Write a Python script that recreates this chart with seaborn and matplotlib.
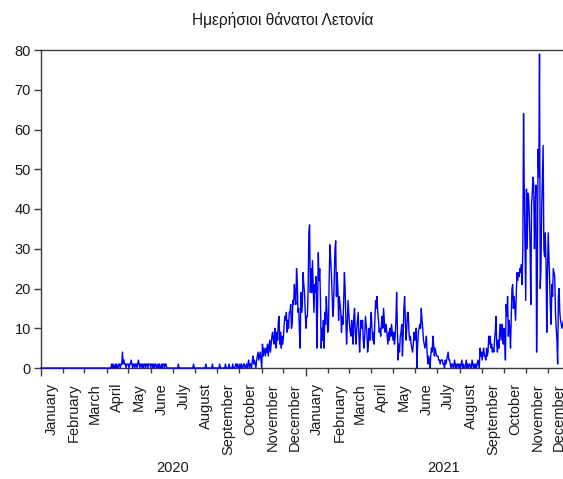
import matplotlib
matplotlib.use("Agg")
import matplotlib.pyplot as plt
import matplotlib.dates as mdates
import numpy as np
import pandas as pd
import seaborn as sns

# Daily COVID-19 deaths in Latvia, one list per calendar month
jan_2020 = [0] * 31
feb_2020 = [0] * 29
mar_2020 = [0] * 31
apr_2020 = [0, 0, 0, 0, 0, 0, 0, 1, 0, 1, 0, 0, 1, 0, 1, 0, 0, 1, 1, 0,
            1, 1, 4, 1, 2, 1, 1, 0, 1, 1]
may_2020 = [1, 0, 1, 1, 2, 1, 0, 1, 1, 0, 1, 1, 0, 1, 2, 1, 0, 1, 1, 0,
            1, 0, 1, 1, 0, 1, 1, 0, 1, 1, 1]
jun_2020 = [0, 1, 1, 0, 1, 0, 1, 1, 0, 0, 1, 0, 1, 0, 0, 1, 0, 1, 1, 0,
            1, 1, 0, 0, 0, 0, 0, 0, 0, 0]
jul_2020 = [0, 0, 0, 0, 0, 0, 0, 0, 1, 0, 0, 0, 0, 0, 0, 0, 0, 0, 0, 0,
            0, 0, 0, 0, 0, 0, 0, 0, 0, 1, 0]
aug_2020 = [0, 0, 0, 0, 0, 0, 0, 0, 0, 0, 0, 0, 0, 0, 0, 1, 0, 0, 0, 0,
            0, 0, 0, 0, 1, 0, 0, 0, 0, 0, 0]
sep_2020 = [0, 0, 0, 1, 0, 0, 0, 0, 0, 0, 0, 1, 0, 0, 0, 0, 1, 0, 0, 0,
            0, 1, 0, 0, 0, 1, 1, 0, 1, 0]
oct_2020 = [0, 1, 0, 1, 0, 0, 1, 1, 0, 0, 1, 0, 1, 2, 0, 1, 1, 0, 2, 3,
            1, 2, 1, 0, 2, 3, 4, 2, 3, 4, 2]
nov_2020 = [0, 6, 3, 5, 4, 3, 5, 4, 6, 3, 5, 7, 4, 6, 8, 9, 7, 6, 10, 8,
            5, 9, 7, 12, 13, 6, 9, 5, 8, 6]
dec_2020 = [8, 11, 13, 12, 14, 9, 12, 10, 14, 14, 16, 10, 11, 17, 16, 21, 18, 16, 25, 22,
            14, 15, 9, 5, 19, 14, 16, 24, 21, 19, 14]
jan_2021 = [10, 13, 13, 20, 34, 36, 19, 25, 19, 27, 20, 14, 21, 19, 23, 5, 15, 29, 22, 25,
            17, 5, 10, 7, 12, 5, 14, 11, 18, 14, 9]
feb_2021 = [10, 22, 31, 28, 24, 19, 13, 15, 22, 30, 32, 18, 24, 20, 12, 18, 16, 14, 9, 13,
            11, 17, 24, 20, 12, 6, 11, 17]
mar_2021 = [14, 11, 9, 8, 12, 10, 6, 13, 15, 9, 6, 10, 12, 14, 8, 4, 9, 12, 10, 12,
            7, 5, 8, 13, 11, 9, 4, 6, 10, 7, 11]
apr_2021 = [14, 10, 7, 9, 6, 12, 17, 15, 18, 14, 12, 9, 10, 8, 11, 13, 10, 15, 12, 9,
            11, 10, 8, 6, 9, 7, 10, 8, 11, 9]
may_2021 = [7, 9, 6, 8, 12, 19, 10, 2, 6, 4, 8, 9, 11, 3, 8, 15, 18, 12, 7, 10,
            14, 14, 9, 7, 8, 6, 5, 4, 6, 9, 7]
jun_2021 = [8, 10, 0, 6, 9, 10, 11, 10, 15, 12, 10, 7, 6, 5, 6, 8, 4, 1, 3, 2,
            0, 3, 5, 4, 8, 6, 3, 5, 4, 3]
jul_2021 = [3, 3, 2, 2, 1, 2, 2, 2, 1, 1, 0, 2, 1, 2, 3, 4, 2, 2, 1, 0,
            1, 1, 0, 1, 2, 0, 1, 0, 1, 1, 0]
aug_2021 = [1, 0, 1, 2, 0, 1, 0, 0, 1, 2, 0, 1, 0, 1, 1, 0, 0, 2, 1, 0,
            1, 0, 1, 0, 1, 2, 1, 0, 5, 3, 4]
sep_2021 = [2, 4, 5, 3, 3, 2, 5, 3, 4, 8, 6, 8, 5, 6, 4, 5, 4, 7, 9, 13,
            6, 4, 7, 5, 9, 11, 7, 11, 9, 6]
oct_2021 = [10, 7, 2, 16, 13, 18, 8, 12, 10, 5, 12, 20, 21, 15, 18, 15, 12, 19, 24, 22,
            24, 23, 25, 24, 26, 21, 30, 64, 44, 30, 17]
nov_2021 = [45, 30, 44, 43, 38, 30, 16, 41, 44, 48, 46, 30, 40, 46, 4, 23, 55, 48, 79, 20,
            25, 40, 48, 56, 30, 28, 34, 26, 9, 24]
dec_2021 = [34, 28, 22, 15, 11, 21, 18, 25, 24, 23, 14, 10, 7, 1, 18, 20, 14, 12, 11, 10,
            11, 12, 9, 10, 8, 7, 11, 9, 10, 8, 9]

month_names = ["January", "February", "March", "April", "May", "June", "July",
               "August", "September", "October", "November", "December"]
years = ["2020", "2021"]
title = "Ημερήσιοι θάνατοι Λετονία"

monthly = [jan_2020, feb_2020, mar_2020, apr_2020, may_2020, jun_2020,
           jul_2020, aug_2020, sep_2020, oct_2020, nov_2020, dec_2020,
           jan_2021, feb_2021, mar_2021, apr_2021, may_2021, jun_2021,
           jul_2021, aug_2021, sep_2021, oct_2021, nov_2021, dec_2021]
deaths = np.concatenate(monthly)
dates = pd.date_range(f"{years[0]}-01-01", periods=len(deaths), freq="D")
df = pd.DataFrame({"date": dates, "deaths": deaths})

sns.set_theme(style="white")
plt.rcParams["font.family"] = ["Liberation Sans", "DejaVu Sans"]

W, H = 563, 479
fig = plt.figure(figsize=(W / 100, H / 100), dpi=100)
fig.patch.set_facecolor("white")

# plot frame in pixels; the time axis runs on past the right edge of the canvas
left_px, right_px, top_px, bottom_px = 40.5, 570.7, 50, 368
ax = fig.add_axes([left_px / W, 1 - bottom_px / H,
                   (right_px - left_px) / W, (bottom_px - top_px) / H])

sns.lineplot(data=df, x="date", y="deaths", ax=ax, color="#0000ff",
             linewidth=1.0, clip_on=False, zorder=3)

start = pd.Timestamp(f"{years[0]}-01-01")
end = pd.Timestamp(f"{int(years[-1]) + 1}-01-01")
ax.set_xlim(start, end)
ax.set_ylim(0, 80)
ax.set_yticks(range(0, 81, 10))
ax.set_xlabel("")
ax.set_ylabel("")

spine_col = "#3c3c3c"
text_col = "#1a1a1a"
for side in ["left", "top", "bottom"]:
    ax.spines[side].set_color(spine_col)
    ax.spines[side].set_linewidth(1.0)
ax.spines["right"].set_visible(False)

# long ticks at year boundaries, short ticks at month boundaries
year_starts = pd.date_range(start, end, freq="YS")
month_starts = pd.date_range(start, end, freq="MS")
ax.set_xticks(mdates.date2num(year_starts))
ax.set_xticks(mdates.date2num(month_starts), minor=True)
ax.set_xticklabels([])
ax.tick_params(axis="x", which="major", length=6, width=1, color=spine_col,
               direction="out", bottom=True)
ax.tick_params(axis="x", which="minor", length=3.5, width=1, color=spine_col,
               direction="out", bottom=True)
ax.tick_params(axis="y", which="major", length=5, width=1, color=spine_col,
               direction="out", left=True, pad=2, labelsize=10.5,
               labelcolor=text_col)

# month names centred on each month, year labels centred under each year
for m in month_starts[:-1]:
    mid = m + pd.Timedelta(days=15)
    ax.annotate(month_names[m.month - 1], xy=(mdates.date2num(mid), 0),
                xycoords=("data", "axes fraction"), xytext=(0, -15),
                textcoords="offset pixels", rotation=90, ha="center",
                va="top", fontsize=10.5, color=text_col)
year_mid = {"2020": "2020-07-01", "2021": "2021-07-10"}
for y in years:
    mid = pd.Timestamp(year_mid[y])
    ax.annotate(y, xy=(mdates.date2num(mid), 11), xycoords=("data", "figure pixels"),
                ha="center", va="center", fontsize=10.5, color=text_col)

fig.text(283 / W, 1 - 20 / H, title, ha="center", va="center",
         fontsize=11.2, color=text_col)

fig.savefig("out.png", dpi=100, facecolor="white")
